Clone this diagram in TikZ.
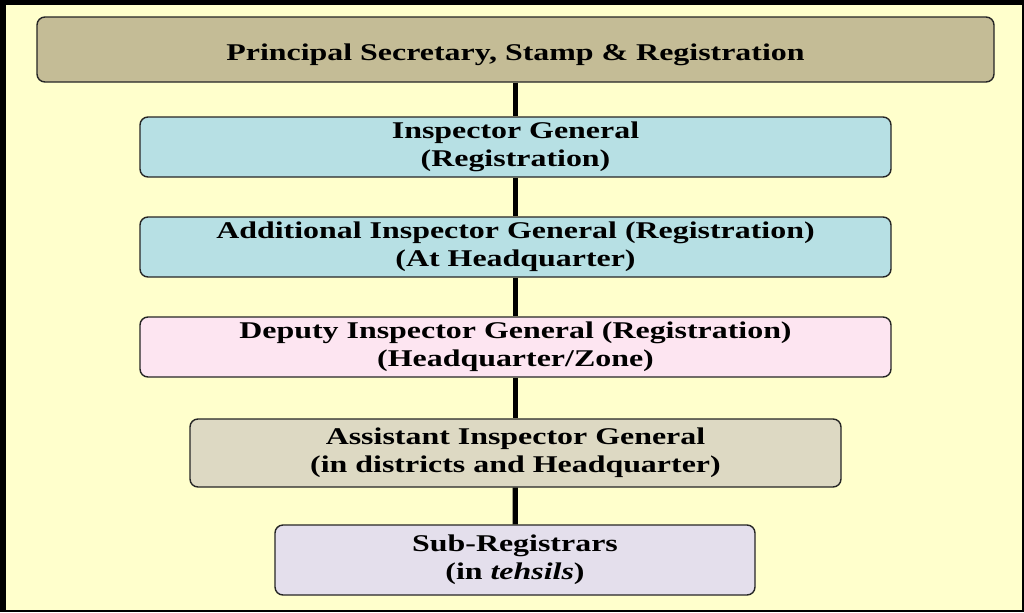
\documentclass[tikz,border=0pt]{standalone}
\usepackage{fontspec}
\newfontfamily\orgfont[FakeStretch=1.33]{Liberation Serif}
\definecolor{pagebg}{RGB}{255,255,204}
\definecolor{tanbox}{RGB}{196,188,150}
\definecolor{bluebox}{RGB}{183,224,228}
\definecolor{pinkbox}{RGB}{253,229,241}
\definecolor{greybox}{RGB}{221,217,195}
\definecolor{lilacbox}{RGB}{228,223,236}
\begin{document}
\begin{tikzpicture}[x=0.5pt,y=-0.5pt,
        post/.style = {draw=black!85,line width=0.7pt,rounded corners=4pt,
                       align=center,inner sep=0pt,
                       font=\orgfont\fontsize{12pt}{13.8pt}\selectfont\bfseries},
        link/.style = {line width=2.6pt}]
                \useasboundingbox (0,0) rectangle (1024,612);
                \fill[black] (0,0) rectangle (1024,612);
                \fill[pagebg] (6,5) rectangle (1022,610);

                \node[post,fill=tanbox,minimum width=478.5pt,minimum height=32.5pt,
                      text height=13.3pt,text depth=2.6pt]
                    (ps) at (515.5,49.5) {Principal Secretary, Stamp \& Registration};
                \node[post,fill=bluebox,minimum width=375.5pt,minimum height=30pt]
                    (ig) at (515.5,147) {Inspector General\\(Registration)};
                \node[post,fill=bluebox,minimum width=375.5pt,minimum height=30pt]
                    (aig) at (515.5,247) {Additional Inspector General (Registration)\\(At Headquarter)};
                \node[post,fill=pinkbox,minimum width=375.5pt,minimum height=30pt]
                    (dig) at (515.5,347) {Deputy Inspector General (Registration)\\(Headquarter/Zone)};
                \node[post,fill=greybox,minimum width=325.5pt,minimum height=34pt]
                    (asig) at (515.5,453) {Assistant Inspector General\\(in districts and Headquarter)};
                \node[post,fill=lilacbox,minimum width=240pt,minimum height=35pt]
                    (sr) at (515,560) {Sub-Registrars\\(in \textit{tehsils})};

                \draw[link] (ps) -- (ig);
                \draw[link] (ig) -- (aig);
                \draw[link] (aig) -- (dig);
                \draw[link] (dig) -- (asig);
                \draw[link] (asig) -- (sr);
            \end{tikzpicture}
\end{document}
